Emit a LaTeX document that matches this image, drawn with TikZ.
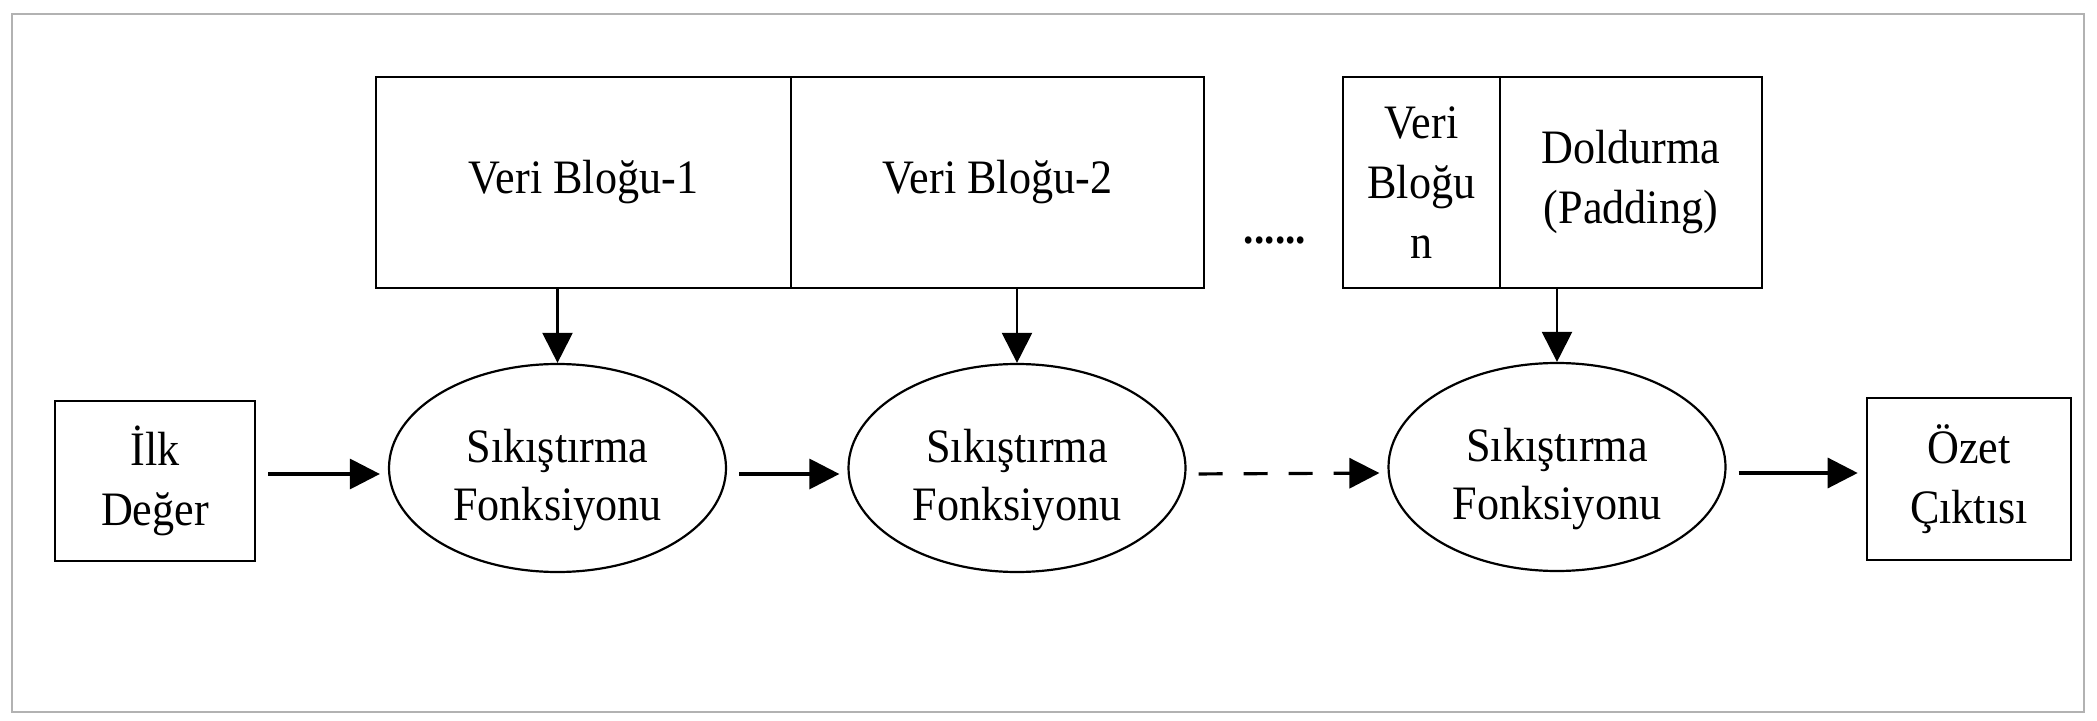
\documentclass[tikz,border=0pt]{standalone}
\usepackage{fontspec}
\setmainfont{Liberation Serif}[FakeStretch=0.92]
\usetikzlibrary{arrows.meta,shapes.geometric}
\begin{document}
\begin{tikzpicture}[x=0.5pt,y=-0.5pt,
  frame/.style={draw=black!30, line width=0.8pt},
  blockbox/.style={draw, line width=1.3pt, inner sep=0pt, align=center,
    font=\fontsize{24}{30}\selectfont},
  fn/.style={draw, ellipse, line width=1.1pt, inner sep=0pt,
    minimum width=168.5pt, minimum height=104pt},
  lbl/.style={align=center, inner sep=0pt, font=\fontsize{24}{29}\selectfont},
  tip/.style={-{Triangle[length=15pt,width=15pt]}},
  harr/.style={tip, line width=1.6pt, shorten <=6pt, shorten >=4pt},
  varr/.style={tip, line width=1.1pt},
  darr/.style={harr, dash pattern=on 12pt off 10.5pt},
]
\useasboundingbox (0,0) rectangle (2097,721);
\draw[frame] (12,14) rectangle (2084,712);

% top data blocks
\node[blockbox, minimum width=207.5pt, minimum height=105.5pt] (b1) at (583.5,182.5) {Veri Bloğu-1};
\node[blockbox, minimum width=206.5pt, minimum height=105.5pt] (b2) at (997.5,182.5) {Veri Bloğu-2};
\node[lbl, font=\fontsize{22.5}{29}\selectfont\bfseries, anchor=base] (dots) at (1275,244) {......};
\node[blockbox, minimum width=78.5pt, minimum height=105.5pt] (b3) at (1421.5,182.5) {Veri\\Bloğu\\n};
\node[blockbox, minimum width=131pt, minimum height=105.5pt] (b4) at (1631,182.5) {Doldurma\\(Padding)};

% input / output
\node[blockbox, minimum width=100pt, minimum height=80pt] (init) at (155,481) {İlk\\Değer};
\node[blockbox, minimum width=102pt, minimum height=81pt] (out) at (1969,479) {Özet\\Çıktısı};

% compression functions
\node[fn] (f1) at (557.5,468) {};
\node[fn] (f2) at (1017,468) {};
\node[fn] (f3) at (1557,467) {};
\node[lbl] (t1) at ([yshift=-6pt]f1.center) {Sıkıştırma\\Fonksiyonu};
\node[lbl] (t2) at ([yshift=-6pt]f2.center) {Sıkıştırma\\Fonksiyonu};
\node[lbl] (t3) at ([yshift=-6pt]f3.center) {Sıkıştırma\\Fonksiyonu};

% vertical arrows
\draw[varr] (f1.north |- b1.south) -- (f1.north);
\draw[varr] (f2.north |- b2.south) -- (f2.north);
\draw[varr] (f3.north |- b4.south) -- (f3.north);

% horizontal arrows
\draw[harr] ([yshift=-3pt]init.east |- f1.west) -- ([yshift=-3pt]f1.west);
\draw[harr] ([yshift=-3pt]f1.east) -- ([yshift=-3pt]f2.west);
\draw[darr] ([yshift=-3pt]f2.east) -- ([yshift=-3pt]f3.west);
\draw[harr] ([yshift=-3pt]f3.east) -- ([yshift=-3pt]out.west |- f3.east);
\end{tikzpicture}
\end{document}
